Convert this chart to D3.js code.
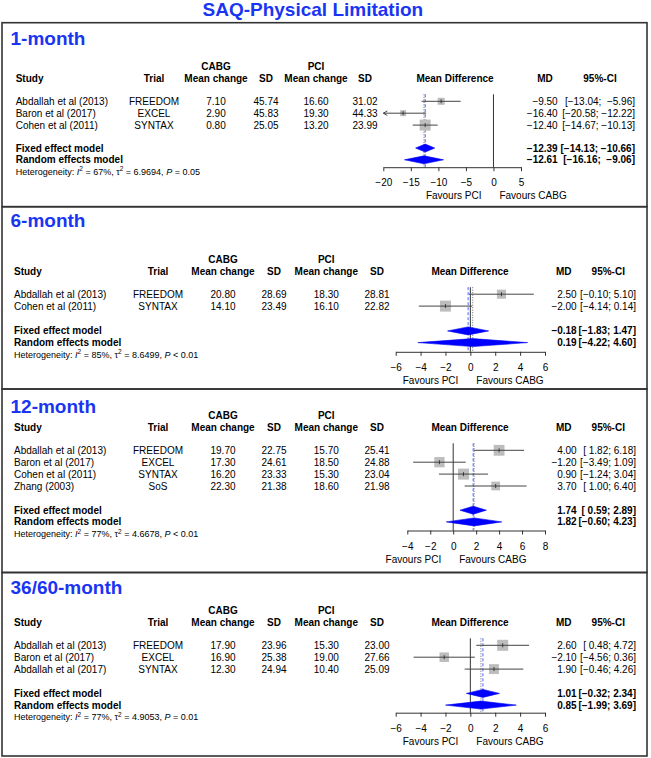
<!DOCTYPE html>
<html><head><meta charset="utf-8">
<script src="https://cdn.jsdelivr.net/npm/d3@7"></script>
<style>body{margin:0;background:#fff}svg{display:block}text{font-family:"Liberation Sans",Arial,Helvetica,sans-serif}</style>
</head><body><svg id="c" width="651" height="758"></svg>
<script>
const chartTitle = "SAQ-Physical Limitation";
const panelNames = ["1-month","6-month","12-month","36/60-month"];
const studyNames = [
 ["Abdallah et al (2013)","Baron et al (2017)","Cohen et al (2011)"],
 ["Abdallah et al (2013)","Cohen et al (2011)"],
 ["Abdallah et al (2013)","Baron et al (2017)","Cohen et al (2011)","Zhang (2003)"],
 ["Abdallah et al (2013)","Baron et al (2017)","Abdallah et al (2017)"]];
const trialNames = [["FREEDOM","EXCEL","SYNTAX"],["FREEDOM","SYNTAX"],["FREEDOM","EXCEL","SYNTAX","SoS"],["FREEDOM","EXCEL","SYNTAX"]];
const cabgMean = [[7.10,2.90,0.80],[20.80,14.10],[19.70,17.30,16.20,22.30],[17.90,16.90,12.30]];
const cabgSD = [[45.74,45.83,25.05],[28.69,23.49],[22.75,24.61,23.33,21.38],[23.96,25.38,24.94]];
const pciMean = [[16.60,19.30,13.20],[18.30,16.10],[15.70,18.50,15.30,18.60],[15.30,19.00,10.40]];
const pciSD = [[31.02,44.33,23.99],[28.81,22.82],[25.41,24.88,23.04,21.98],[23.00,27.66,25.09]];
const mdValues = [[-9.50,-16.40,-12.40],[2.50,-2.00],[4.00,-1.20,0.90,3.70],[2.60,-2.10,1.90]];
const ciLower = [[-13.04,-20.58,-14.67],[-0.10,-4.14],[1.82,-3.49,-1.24,1.00],[0.48,-4.56,-0.46]];
const ciUpper = [[-5.96,-12.22,-10.13],[5.10,0.14],[6.18,1.09,3.04,6.40],[4.72,0.36,4.26]];
const studyWeights = [[24.1,17.3,58.6],[40.4,59.6],[27.8,25.2,28.9,18.1],[39.2,29.1,31.7]];
const fixedEffect = [[-12.39,-14.13,-10.66],[-0.18,-1.83,1.47],[1.74,0.59,2.89],[1.01,-0.32,2.34]];
const randomEffect = [[-12.61,-16.16,-9.06],[0.19,-4.22,4.60],[1.82,-0.60,4.23],[0.85,-1.99,3.69]];
const hetI2 = [67,85,77,77];
const hetTau2 = ["6.9694","8.6499","4.6678","4.9053"];
const hetP = ["= 0.05","< 0.01","< 0.01","= 0.01"];
const axisTicks = [[-20,-15,-10,-5,0,5],[-6,-4,-2,0,2,4,6],[-4,-2,0,2,4,6,8],[-6,-4,-2,0,2,4,6]];

// ---- layout (not data) ----
const BLUE = "#1a35f2";
const colsA = {study:15.7, trial:154, cm:216, csd:266, pm:316, psd:365, mdHdr:545, mdR:557.7, ciHdr:600, ciR:635};
const colsB = {study:14, trial:158, cm:223, csd:274, pm:326.3, psd:377, mdHdr:563.7, mdR:576.7, ciHdr:608.3, ciR:636};
const layout = [
 {top:22.7, bottom:206.7, headY:45, hdrY:78.3, axisX:[383.3,521], cols:colsA, mdHdrX:455, gap:23, axOff:7.4},
 {top:206.7, bottom:389, headY:227.3, hdrY:271.2, axisX:[395.7,545], cols:colsB, mdHdrX:470, gap:24.8, axOff:9.2},
 {top:389, bottom:572.5, headY:413.3, hdrY:427.3, axisX:[407.3,545], cols:colsB, mdHdrX:470, gap:24.2, axOff:8.6},
 {top:572.5, bottom:756, headY:594.3, hdrY:622.3, axisX:[395.7,545], cols:colsB, mdHdrX:470, gap:24.3, axOff:7.6}
];

const svg = d3.select("#c");
const fmt = d3.format(".2f");

svg.append("text").attr("x",202.5).attr("y",15.5).text(chartTitle)
  .attr("font-size",19).attr("font-weight","bold").attr("fill",BLUE);

panelNames.forEach((name, p) => {
  const L = layout[p], C = L.cols;
  const g = svg.append("g");
  const n = studyNames[p].length;

  g.append("rect").attr("x",2).attr("y",L.top).attr("width",645).attr("height",L.bottom-L.top)
    .attr("fill","none").attr("stroke","#333").attr("stroke-width",1.6);

  g.append("text").attr("x",10.5).attr("y",L.headY).text(name)
    .attr("font-size",19).attr("font-weight","bold").attr("fill",BLUE);

  const txt = (x, y, s, anchor, opts={}) => g.append("text").attr("x",x).attr("y",y).attr("dy","0.35em")
     .attr("text-anchor",anchor).attr("font-size",opts.size||10).attr("font-weight",opts.bold?"bold":null)
     .style("white-space","pre").attr("fill","#000").text(s);

  const hy = L.hdrY;
  txt(C.cm, hy-11.7, "CABG", "middle", {bold:true});
  txt(C.pm, hy-11.7, "PCI", "middle", {bold:true});
  txt(C.study, hy, "Study", "start", {bold:true});
  txt(C.trial, hy, "Trial", "middle", {bold:true});
  txt(C.cm, hy, "Mean change", "middle", {bold:true});
  txt(C.csd, hy, "SD", "middle", {bold:true});
  txt(C.pm, hy, "Mean change", "middle", {bold:true});
  txt(C.psd, hy, "SD", "middle", {bold:true});
  txt(L.mdHdrX, hy, "Mean Difference", "middle", {bold:true});
  txt(C.mdHdr, hy, "MD", "middle", {bold:true});
  txt(C.ciHdr, hy, "95%-CI", "middle", {bold:true});

  const rowY = i => hy + 23.0 + i*11.9;
  const lastY = rowY(n-1);
  const fixedY = lastY + L.gap;
  const randomY = fixedY + 11.7;
  const hetY = randomY + 12;
  const axisY = randomY + L.axOff;

  const lowsAll = ciLower[p].concat([fixedEffect[p][1], randomEffect[p][1]]).map(fmt);
  const highsAll = ciUpper[p].concat([fixedEffect[p][2], randomEffect[p][2]]).map(fmt);
  const lw = d3.max(lowsAll, s=>s.length), hw = d3.max(highsAll, s=>s.length);
  const ciStr = i => "[" + lowsAll[i].padStart(lw," ") + "; " + highsAll[i].padStart(hw," ") + "]";

  for (let i=0;i<n;i++){
    const y = rowY(i);
    txt(C.study, y, studyNames[p][i], "start");
    txt(C.trial, y, trialNames[p][i], "middle");
    txt(C.cm, y, fmt(cabgMean[p][i]), "middle");
    txt(C.csd, y, fmt(cabgSD[p][i]), "middle");
    txt(C.pm, y, fmt(pciMean[p][i]), "middle");
    txt(C.psd, y, fmt(pciSD[p][i]), "middle");
    txt(C.mdR, y, fmt(mdValues[p][i]), "end");
    txt(C.ciR, y, ciStr(i), "end");
  }
  txt(C.study, fixedY, "Fixed effect model", "start", {bold:true});
  txt(C.study, randomY, "Random effects model", "start", {bold:true});
  txt(C.mdR, fixedY, fmt(fixedEffect[p][0]), "end", {bold:true});
  txt(C.mdR, randomY, fmt(randomEffect[p][0]), "end", {bold:true});
  txt(C.ciR, fixedY, ciStr(n), "end", {bold:true});
  txt(C.ciR, randomY, ciStr(n+1), "end", {bold:true});

  const ht = g.append("text").attr("x",C.study).attr("y",hetY).attr("dy","0.35em").attr("font-size",9).attr("fill","#000");
  ht.append("tspan").text("Heterogeneity: ");
  ht.append("tspan").attr("font-style","italic").text("I");
  ht.append("tspan").attr("font-size",6.5).attr("dy",-3.5).text("2");
  ht.append("tspan").attr("dy",3.5).text(" = " + hetI2[p] + "%, \u03c4");
  ht.append("tspan").attr("font-size",6.5).attr("dy",-3.5).text("2");
  ht.append("tspan").attr("dy",3.5).text(" = " + hetTau2[p] + ", ");
  ht.append("tspan").attr("font-style","italic").text("P");
  ht.append("tspan").text(" " + hetP[p]);

  const ticks = axisTicks[p];
  const x = d3.scaleLinear().domain([ticks[0], ticks[ticks.length-1]]).range(L.axisX);
  const size = d3.scaleSqrt().domain([0, d3.max(studyWeights[p])]).range([0, 11]);
  const topY = rowY(0) - 7;

  g.append("line").attr("x1",x(0)).attr("x2",x(0)).attr("y1",topY).attr("y2",axisY)
    .attr("stroke","#333").attr("stroke-width",1);
  g.append("line").attr("x1",x(fixedEffect[p][0])).attr("x2",x(fixedEffect[p][0])).attr("y1",topY).attr("y2",axisY)
    .attr("stroke","#4a64ff").attr("stroke-width",1).attr("stroke-dasharray","3,2");
  g.append("line").attr("x1",x(randomEffect[p][0])).attr("x2",x(randomEffect[p][0])).attr("y1",topY).attr("y2",axisY)
    .attr("stroke","#666").attr("stroke-width",1).attr("stroke-dasharray","1,1.5");

  const [dmin, dmax] = x.domain();
  for (let i=0;i<n;i++){
    const y = rowY(i);
    const lo = Math.max(ciLower[p][i], dmin), hi = Math.min(ciUpper[p][i], dmax);
    const s = size(studyWeights[p][i]);
    g.append("rect").attr("x",x(mdValues[p][i])-s/2).attr("y",y-s/2).attr("width",s).attr("height",s)
      .attr("fill","#bdbdbd");
    g.append("line").attr("x1",x(lo)).attr("x2",x(hi)).attr("y1",y).attr("y2",y)
      .attr("stroke","#444").attr("stroke-width",1);
    g.append("line").attr("x1",x(mdValues[p][i])).attr("x2",x(mdValues[p][i])).attr("y1",y-2).attr("y2",y+2)
      .attr("stroke","#222").attr("stroke-width",0.8);
    if (ciLower[p][i] < dmin) {
      const ax = x(dmin);
      g.append("path").attr("d",`M${ax+4},${y-2.3}L${ax},${y}L${ax+4},${y+2.3}`)
        .attr("fill","none").attr("stroke","#444").attr("stroke-width",1);
    }
    if (ciUpper[p][i] > dmax) {
      const ax = x(dmax);
      g.append("path").attr("d",`M${ax-4},${y-2.3}L${ax},${y}L${ax-4},${y+2.3}`)
        .attr("fill","none").attr("stroke","#444").attr("stroke-width",1);
    }
  }
  const diamond = (est, y) => {
    const [m, lo, hi] = est;
    g.append("path").attr("d",`M${x(lo)},${y}L${x(m)},${y-4}L${x(hi)},${y}L${x(m)},${y+4}Z`)
      .attr("fill","#0000ff").attr("stroke","#0000ee").attr("stroke-width",0.6);
  };
  diamond(fixedEffect[p], fixedY);
  diamond(randomEffect[p], randomY);

  const ax = g.append("g").attr("transform",`translate(0,${axisY})`)
    .call(d3.axisBottom(x).tickValues(ticks).tickFormat(d3.format("d")).tickSize(4).tickSizeOuter(0).tickPadding(8));
  ax.attr("font-family",'"Liberation Sans",Arial,Helvetica,sans-serif').attr("font-size",10);
  ax.selectAll("path,line").attr("stroke","#333");
  ax.selectAll("text").attr("fill","#000");

  const favY = axisY + 28.5;
  txt(x(0)-12, favY, "Favours PCI", "end");
  txt(x(0)+6, favY, "Favours CABG", "start");
});
</script></body></html>
